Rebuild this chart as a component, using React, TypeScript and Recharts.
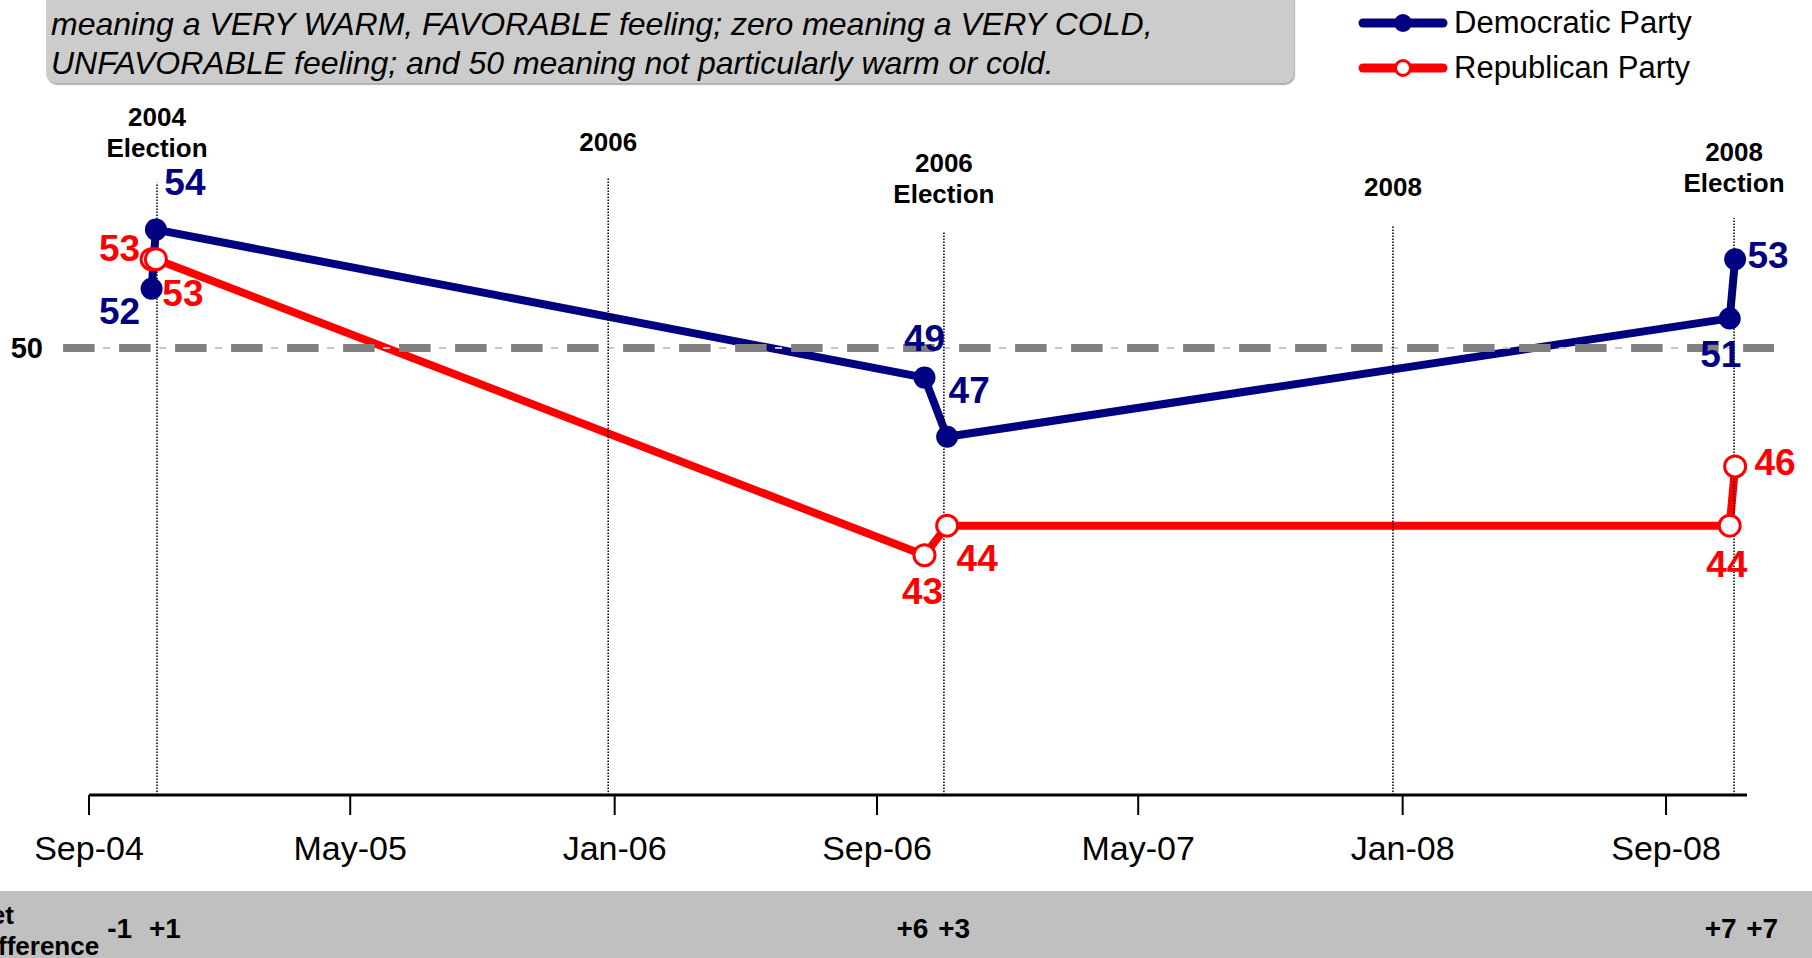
import React from 'react';
import { LineChart, Line, XAxis, YAxis, ReferenceLine, LabelList, Legend } from 'recharts';

const FONT = '"Liberation Sans", Arial, sans-serif';
const NAVY = '#000080';
const RED = '#ff0000';

// poll readings (feeling thermometer, mean rating)
const pollDates = ['2004-10-29', '2004-11-02', '2006-10-15', '2006-11-05', '2008-10-30', '2008-11-04'];
const demValues = [52, 54, 49, 47, 51, 53];
const repValues = [53, 53, 43, 44, 44, 46];
const netLabels = ['-1', '+1', '+6', '+3', '+7', '+7'];

const tickDates = ['2004-09-01', '2005-05-01', '2006-01-01', '2006-09-01', '2007-05-01', '2008-01-01', '2008-09-01'];
const tickLabels = ['Sep-04', 'May-05', 'Jan-06', 'Sep-06', 'May-07', 'Jan-08', 'Sep-08'];

const eventDates = ['2004-11-03', '2005-12-26', '2006-11-02', '2007-12-23', '2008-11-03'];
const eventLabels = [['2004', 'Election'], ['2006'], ['2006', 'Election'], ['2008'], ['2008', 'Election']];
const eventTops = [55.58, 55.78, 53.92, 54.12, 54.39];

// label placement (px offsets from each point)
const demLabelOffsets = [[-32, 23], [29, -47], [0, -39], [22, -46], [-9, 36], [33, -4]];
const repLabelOffsets = [[-32, -11], [27, 34], [-2, 36], [30, 33], [-3, 39], [40, -4]];
const netLabelOffsets = [-32, 9, -12, 7, -9, 27];
const eventLabelGaps = [35, 35, 38, 39, 35];

const ts = (d: string) => new Date(d + 'T00:00:00Z').getTime();
const tickValues = tickDates.map(ts);

const chartData = pollDates.map((d, i) => ({
  t: ts(d),
  dem: demValues[i],
  rep: repValues[i],
  net: netLabels[i],
}));

const valueLabel = (offsets: number[][], color: string) => (props: any) => {
  const x = props.x ?? props.viewBox?.x;
  const y = props.y ?? props.viewBox?.y;
  const [dx, dy] = offsets[props.index] ?? [0, 0];
  return (
    <text x={x + dx} y={y + dy} textAnchor="middle" dominantBaseline="central"
      fill={color} fontSize={37} fontWeight="bold" fontFamily={FONT}>
      {props.value}
    </text>
  );
};

const netLabel = (props: any) => {
  const x = props.x ?? props.viewBox?.x;
  const dx = netLabelOffsets[props.index] ?? 0;
  return (
    <text x={x + dx} y={928} textAnchor="middle" dominantBaseline="central"
      fill="#000" fontSize={28} fontWeight="bold" fontFamily={FONT}>
      {props.value}
    </text>
  );
};

const EventLabel = (props: any) => {
  const { viewBox, lines, gap } = props;
  if (!viewBox) return null;
  const cx = viewBox.x + (viewBox.width || 0) / 2;
  const top = viewBox.y;
  return (
    <g>
      {lines.map((s: string, i: number) => (
        <text key={i} x={cx} y={top - gap - (lines.length - 1 - i) * 31} textAnchor="middle"
          dominantBaseline="central" fill="#000" fontSize={26} fontWeight="bold" fontFamily={FONT}>
          {s}
        </text>
      ))}
    </g>
  );
};

const renderLegend = (props: any) => {
  const items = props.payload || [];
  return (
    <div style={{ display: 'flex', flexDirection: 'column' }}>
      {items.map((item: any, i: number) => (
        <div key={item.value} style={{ display: 'flex', alignItems: 'center', height: 45 }}>
          <svg width={92} height={24}>
            <line x1={6} y1={12} x2={86} y2={12} stroke={item.color} strokeWidth={9} strokeLinecap="round" />
            {i === 0 ? (
              <circle cx={46} cy={12} r={9} fill={item.color} />
            ) : (
              <circle cx={46} cy={12} r={7.5} fill="#fff" stroke={item.color} strokeWidth={3} />
            )}
          </svg>
          <span style={{ fontSize: 31, marginLeft: 5, color: '#000', fontFamily: FONT }}>{item.value}</span>
        </div>
      ))}
    </div>
  );
};

const renderYTick = (props: any) => (
  <text x={43} y={props.y} textAnchor="end" dominantBaseline="central"
    fill="#000" fontSize={29} fontWeight="bold" fontFamily={FONT}>
    {props.payload.value}
  </text>
);

export default function App() {
  return (
    <div style={{ position: 'absolute', left: 0, top: 0, width: 1812, height: 958, overflow: 'hidden', background: '#fff', fontFamily: FONT }}>
      <div style={{ position: 'absolute', left: 0, top: 891, width: 1812, height: 67, background: '#c0c0c0' }} />
      <div style={{ position: 'absolute', left: 46, top: -30, width: 1248, height: 113, background: '#cccccc', borderRadius: 10, boxShadow: '1px 2px 1px #b0b0b0' }} />
      <div style={{ position: 'absolute', left: 51, top: 5, fontSize: 32, lineHeight: '39px', fontStyle: 'italic', color: '#000', whiteSpace: 'nowrap' }}>
        <div>meaning a VERY WARM, FAVORABLE feeling; zero meaning a VERY COLD,</div>
        <div>UNFAVORABLE feeling; and 50 meaning not particularly warm or cold.</div>
      </div>
      <div style={{ position: 'absolute', left: -28, top: 900, fontSize: 26, fontWeight: 'bold', lineHeight: '31px', whiteSpace: 'nowrap' }}>
        <div>Net</div>
        <div>Difference</div>
      </div>
      <div style={{ position: 'absolute', left: 0, top: 0 }}>
        <LineChart width={1812} height={958} data={chartData} margin={{ top: 52, right: 65, bottom: 103, left: 0 }}>
          <XAxis
            dataKey="t"
            type="number"
            domain={[ts('2004-09-01'), ts('2008-11-15')]}
            ticks={tickValues}
            interval={0}
            tickFormatter={(v: number) => tickLabels[tickValues.indexOf(v)]}
            height={60}
            tickSize={20}
            tickMargin={21}
            axisLine={{ stroke: '#000', strokeWidth: 3 }}
            tickLine={{ stroke: '#000', strokeWidth: 2 }}
            tick={{ fill: '#000', fontSize: 34, fontFamily: FONT }}
          />
          <YAxis
            type="number"
            domain={[34.9, 60]}
            ticks={[50]}
            width={89}
            axisLine={false}
            tickLine={false}
            tick={renderYTick}
          />
          <Legend
            layout="horizontal"
            verticalAlign="middle"
            align="center"
            wrapperStyle={{ top: 0, left: 1357, width: 450 }}
            content={renderLegend}
          />
          <Line
            type="linear"
            dataKey="dem"
            name="Democratic Party"
            stroke={NAVY}
            strokeWidth={8}
            strokeLinejoin="round"
            dot={{ r: 11, fill: NAVY, stroke: NAVY, strokeWidth: 0 }}
            activeDot={false}
            isAnimationActive={false}
          >
            <LabelList dataKey="dem" content={valueLabel(demLabelOffsets, NAVY)} />
            <LabelList dataKey="net" content={netLabel} />
          </Line>
          <Line
            type="linear"
            dataKey="rep"
            name="Republican Party"
            stroke={RED}
            strokeWidth={8}
            strokeLinejoin="round"
            dot={{ r: 10.5, fill: '#fff', stroke: RED, strokeWidth: 3 }}
            activeDot={false}
            isAnimationActive={false}
          >
            <LabelList dataKey="rep" content={valueLabel(repLabelOffsets, RED)} />
          </Line>
          <ReferenceLine
            segment={[{ x: ts('2004-08-08'), y: 50 }, { x: ts('2008-12-10'), y: 50 }]}
            ifOverflow="visible"
            stroke="#c8c8c8"
            strokeWidth={2}
            strokeDasharray="7 49"
            strokeDashoffset={16}
          />
          <ReferenceLine
            segment={[{ x: ts('2004-08-08'), y: 50 }, { x: ts('2008-12-10'), y: 50 }]}
            ifOverflow="visible"
            stroke="#808080"
            strokeWidth={8}
            strokeDasharray="31.5 24.5"
          />
          {eventDates.map((d, i) => (
            <ReferenceLine
              key={d}
              segment={[{ x: ts(d), y: 34.9 }, { x: ts(d), y: eventTops[i] }]}
              ifOverflow="visible"
              stroke="#000"
              strokeWidth={1.5}
              strokeDasharray="1.5 1.5"
              label={<EventLabel lines={eventLabels[i]} gap={eventLabelGaps[i]} />}
            />
          ))}
        </LineChart>
      </div>
    </div>
  );
}
